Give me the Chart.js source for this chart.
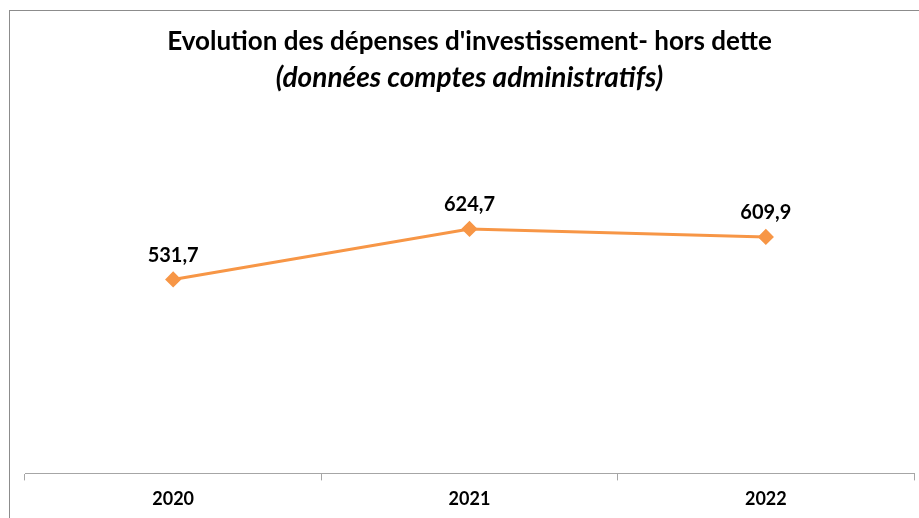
<!DOCTYPE html>
<html>
<head>
<meta charset="utf-8">
<script src="https://cdn.jsdelivr.net/npm/chart.js@4"></script>
<style>
  html, body { margin: 0; padding: 0; background: #fff; overflow: hidden; }
  #wrap { position: relative; width: 919px; height: 518px; overflow: hidden; }
  #frame { position: absolute; left: 9px; top: 10px; right: -5px; bottom: -5px; border-left: 1px solid #8c8c8c; border-top: 1px solid #8c8c8c; }
  canvas { position: absolute; left: 0; top: 0; }
</style>
</head>
<body>
<div id="wrap">
  <div id="frame"></div>
  <!-- a little wider than the window: the x scale keeps ~9px free on the right for its last label -->
  <canvas id="chart" width="923" height="518"></canvas>
</div>
<script>
const years = ['2020', '2021', '2022'];
const depenses = [531.7, 624.7, 609.9];
const valueLabels = ['531,7', '624,7', '609,9'];

// draws the value above each point, like the Excel data labels
const pointLabels = {
  id: 'pointLabels',
  afterDatasetsDraw(chart) {
    const ctx = chart.ctx;
    const meta = chart.getDatasetMeta(0);
    ctx.save();
    ctx.font = 'bold 20px Lato';
    ctx.fillStyle = '#000';
    ctx.textAlign = 'center';
    ctx.textBaseline = 'middle';
    meta.data.forEach((pt, i) => {
      ctx.fillText(valueLabels[i], pt.x, pt.y - 24);
    });
    ctx.restore();
  }
};

const ctx = document.getElementById('chart');

new Chart(ctx, {
  type: 'line',
  data: {
    labels: years,
    datasets: [{
      data: depenses,
      borderColor: '#f79646',
      backgroundColor: '#f79646',
      borderWidth: 3,
      pointStyle: 'rectRot',
      pointRadius: 6,
      tension: 0
    }]
  },
  options: {
    responsive: false,
    animation: false,
    layout: {
      padding: { left: 25, right: 9, top: 0, bottom: 0 }
    },
    scales: {
      x: {
        offset: true,
        grid: {
          offset: true,
          drawOnChartArea: false,
          tickLength: 7,
          color: '#a6a6a6'
        },
        border: { color: '#a6a6a6' },
        ticks: {
          color: '#000',
          padding: 8,
          font: { size: 18, weight: 'bold', family: 'Lato' }
        }
      },
      y: {
        display: false,
        min: 175,
        max: 853
      }
    },
    plugins: {
      legend: { display: false },
      tooltip: { enabled: false },
      title: {
        display: true,
        text: "Evolution des dépenses d'investissement- hors dette",
        color: '#000',
        font: { size: 26, weight: 'bold', family: 'Lato' },
        padding: { top: 26, bottom: 4 }
      },
      subtitle: {
        display: true,
        text: '(données comptes administratifs)',
        color: '#000',
        font: { size: 28, weight: 'bold', style: 'italic', family: 'Lato' },
        padding: { top: 0, bottom: 10 }
      }
    }
  },
  plugins: [pointLabels]
});
</script>
</body>
</html>
